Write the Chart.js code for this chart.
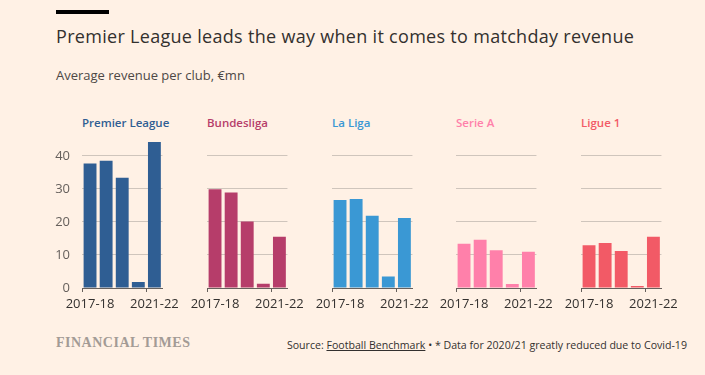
<!DOCTYPE html>
<html>
<head>
<meta charset="utf-8">
<script src="https://cdn.jsdelivr.net/npm/chart.js@4.4.1/dist/chart.umd.min.js"></script>
<style>
    html, body { margin: 0; padding: 0; }
    body {
        width: 705px;
        height: 375px;
        background: #fff1e5;
        position: relative;
        overflow: hidden;
        font-family: 'Open Sans', sans-serif;
        color: #33302e;
    }
    .rule { position: absolute; left: 56px; top: 10px; width: 53px; height: 4px; background: #000; }
    .title { position: absolute; left: 56px; top: 24px; font-size: 18px; letter-spacing: 0.3px; white-space: nowrap; }
    .subtitle { position: absolute; left: 56px; top: 66px; font-size: 13px; color: #4d4845; white-space: nowrap; }
    .panel-title { position: absolute; top: 115px; font-size: 11.5px; font-weight: 600; white-space: nowrap; }
    canvas { position: absolute; top: 128px; }
    .brand { position: absolute; left: 56px; top: 335px; font-family: 'Liberation Serif', serif; font-weight: bold; font-size: 14px; color: #a39b95; letter-spacing: 0.5px; }
    .source { position: absolute; right: 18px; top: 338px; font-size: 10.6px; white-space: nowrap; }
    .source u { text-decoration: underline; }
</style>
</head>
<body>
<div class="rule"></div>
<div class="title">Premier League leads the way when it comes to matchday revenue</div>
<div class="subtitle">Average revenue per club, €mn</div>
<div id="panels"></div>
<div class="brand">FINANCIAL TIMES</div>
<div class="source">Source: <u>Football Benchmark</u> • * Data for 2020/21 greatly reduced due to Covid-19</div>

<script>
const seasons = ['2017-18', '2018-19', '2019-20', '2020-21*', '2021-22'];
const yTicks = [0, 10, 20, 30, 40];

const premierLeague = [37.7, 38.5, 33.4, 1.8, 44.2];
const bundesliga = [29.9, 28.9, 20.1, 1.3, 15.5];
const laLiga = [26.6, 26.9, 21.9, 3.5, 21.2];
const serieA = [13.4, 14.6, 11.4, 1.2, 11.0];
const ligue1 = [12.9, 13.6, 11.2, 0.6, 15.5];

const leagueNames = ['Premier League', 'Bundesliga', 'La Liga', 'Serie A', 'Ligue 1'];
const leagueValues = [premierLeague, bundesliga, laLiga, serieA, ligue1];
const leagueColors = ['#2f5e93', '#b63d6a', '#3a98d4', '#ff80aa', '#f25a66'];
// left edge of each panel's plot area
const panelLeft = [82, 207, 332, 456, 581];

const axisWidth = 30;
const plotWidth = 81;
const padRight = 22;

function panelChart(i) {
    const panels = document.getElementById('panels');

    const title = document.createElement('div');
    title.className = 'panel-title';
    title.style.left = panelLeft[i] + 'px';
    title.style.color = leagueColors[i];
    title.textContent = leagueNames[i];
    panels.appendChild(title);

    const canvas = document.createElement('canvas');
    canvas.width = axisWidth + plotWidth + padRight;
    canvas.height = 192;
    canvas.style.left = (panelLeft[i] - axisWidth) + 'px';
    panels.appendChild(canvas);

    const showY = i === 0;
    const last = seasons.length - 1;

    new Chart(canvas, {
        type: 'bar',
        data: {
            labels: seasons,
            datasets: [{
                label: leagueNames[i],
                data: leagueValues[i],
                backgroundColor: leagueColors[i],
                barPercentage: .8,
                categoryPercentage: 1,
            }]
        },
        options: {
            responsive: false,
            animation: false,
            layout: { padding: { top: 8, right: padRight, left: 0, bottom: 0 } },
            plugins: {
                legend: { display: false },
                tooltip: { enabled: false },
            },
            scales: {
                x: {
                    afterFit: (s) => { s.height = 32; },
                    border: { color: '#66605c', width: 1 },
                    grid: {
                        drawOnChartArea: false,
                        drawTicks: true,
                        tickLength: 4,
                        tickColor: (ctx) => (ctx.index === 0 || ctx.index === last) ? '#66605c' : 'rgba(0,0,0,0)',
                    },
                    ticks: {
                        autoSkip: false,
                        maxRotation: 0,
                        padding: 4,
                        color: '#33302e',
                        font: { family: 'Open Sans', size: 13 },
                        callback: (v, idx) => (idx === 0 || idx === last) ? seasons[idx] : '',
                    },
                },
                y: {
                    min: 0,
                    max: 46,
                    afterFit: (s) => { s.width = axisWidth; },
                    afterBuildTicks: (s) => { s.ticks = yTicks.map(v => ({ value: v })); },
                    border: { display: false },
                    grid: {
                        color: '#cfc5bc',
                        drawTicks: true,
                        tickLength: 12,
                        tickColor: 'rgba(0,0,0,0)',
                    },
                    ticks: {
                        display: showY,
                        padding: 0,
                        color: '#66605c',
                        font: { family: 'Open Sans', size: 13 },
                    },
                },
            },
        },
    });
}

leagueNames.forEach((name, i) => panelChart(i));
</script>
</body>
</html>
